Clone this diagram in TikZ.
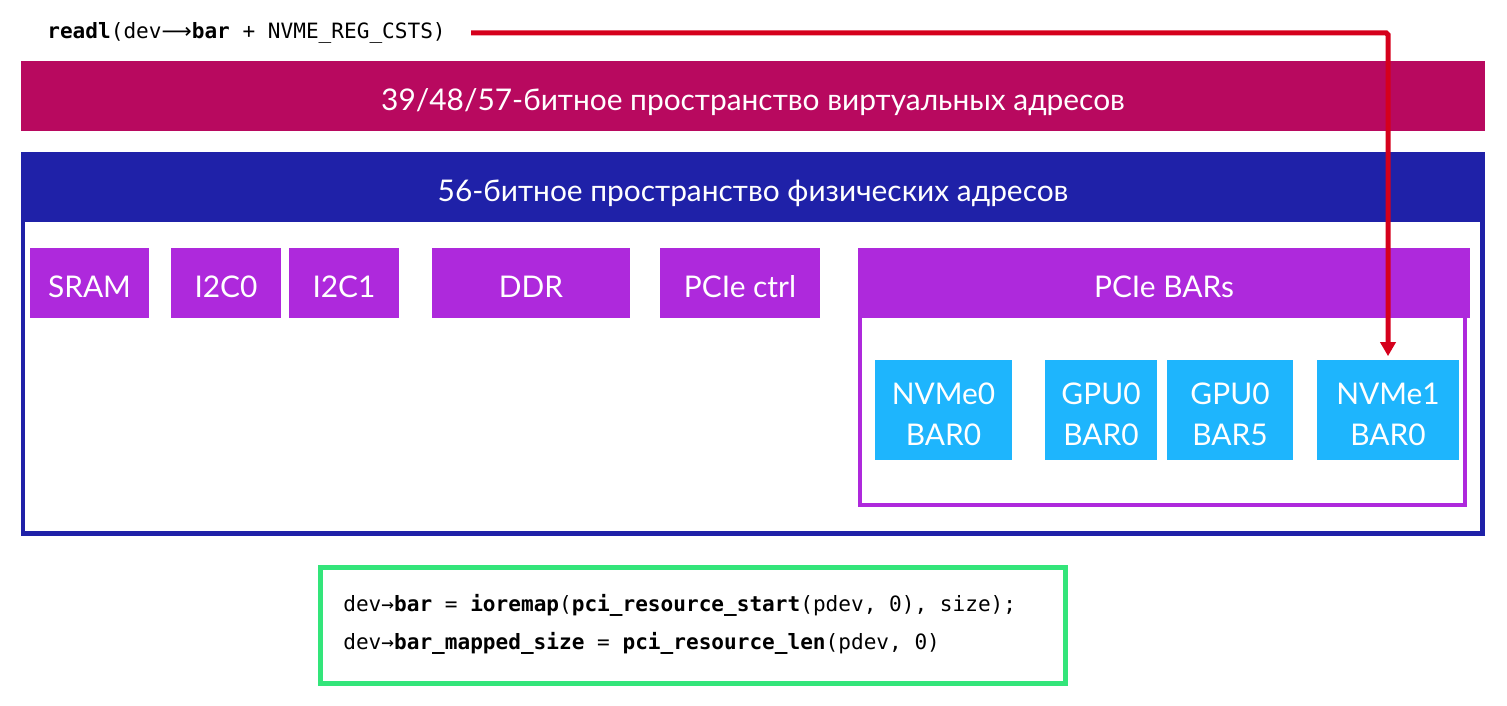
\documentclass[tikz,border=0pt]{standalone}
\usepackage{fontspec}
\setmainfont{Lato}
\setmonofont{DejaVu Sans Mono}
\newfontfamily\arrowfont{DejaVu Sans}
\usetikzlibrary{arrows.meta}
\definecolor{virtcol}{HTML}{B8095F}
\definecolor{physcol}{HTML}{1F21A8}
\definecolor{devcol}{HTML}{AE29DC}
\definecolor{barcol}{HTML}{1EB5FD}
\definecolor{arrowcol}{HTML}{D5001C}
\definecolor{codecol}{HTML}{33E57A}

\begin{document}
\begin{tikzpicture}[x=0.02cm,y=-0.02cm,
  addrbar/.style={minimum width=29.28cm,minimum height=1.4cm,inner sep=0pt,text height=16.6pt,text depth=0pt,text=white,font=\fontsize{17}{20}\selectfont},
  devbox/.style={fill=devcol,minimum height=1.4cm,inner sep=0pt,text height=16.6pt,text depth=0pt,text=white,font=\fontsize{17}{20}\selectfont},
  barbox/.style={fill=barcol,minimum height=2cm,inner sep=0pt,text height=40pt,text depth=0pt,text=white,align=center,font=\fontsize{17}{23}\selectfont},
  codeline/.style={anchor=west,inner sep=0pt,font=\ttfamily\fontsize{12}{14}\selectfont}]
  \useasboundingbox (0,0) rectangle (1507,706);

  \node[codeline] (readl) at (47,33) {\textbf{readl}(dev{\arrowfont ⟶}\textbf{bar} + NVME\_REG\_CSTS)};

  \node[addrbar,fill=virtcol] (virt) at (753,96) {39/48/57-битное пространство виртуальных адресов};

  \draw[physcol,line width=0.1cm] (23,222) -- (23,533.5) -- (1482,533.5) -- (1482,222);
  \node[addrbar,fill=physcol] (phys) at (753,187) {56-битное пространство физических адресов};

  \node[devbox,minimum width=2.38cm] (sram) at (89.5,283) {SRAM};
  \node[devbox,minimum width=2.2cm] (ictwo0) at (226,283) {I2C0};
  \node[devbox,minimum width=2.2cm] (ictwo1) at (344,283) {I2C1};
  \node[devbox,minimum width=3.96cm] (ddr) at (531,283) {DDR};
  \node[devbox,minimum width=3.2cm] (pcictrl) at (740,283) {PCIe ctrl};
  \node[devbox,minimum width=12.24cm] (pcibars) at (1164,283) {PCIe BARs};
  \draw[devcol,line width=0.09cm] (860,318) -- (860,505) -- (1465,505) -- (1465,318);

  \node[barbox,minimum width=2.74cm] (nvme0) at (943.5,410) {NVMe0\\BAR0};
  \node[barbox,minimum width=2.24cm] (gpubar0) at (1101,410) {GPU0\\BAR0};
  \node[barbox,minimum width=2.52cm] (gpubar5) at (1230,410) {GPU0\\BAR5};
  \node[barbox,minimum width=2.84cm] (nvme1) at (1388,410) {NVMe1\\BAR0};

  \draw[arrowcol,line width=0.1cm,rounded corners=1pt,-{Triangle[width=0.3cm,length=0.28cm]},shorten >=2pt]
    ([xshift=0.5cm]readl.east) -| (nvme1.north);

  \draw[codecol,line width=0.1cm] (320.5,567.5) rectangle (1065.5,683.5);
  \node[codeline] (ioremap) at (343,605) {dev→\textbf{bar} = \textbf{ioremap}(\textbf{pci\_resource\_start}(pdev, 0), size);};
  \node[codeline] (barlen) at (343,643) {dev→\textbf{bar\_mapped\_size} = \textbf{pci\_resource\_len}(pdev, 0)};
\end{tikzpicture}
\end{document}
